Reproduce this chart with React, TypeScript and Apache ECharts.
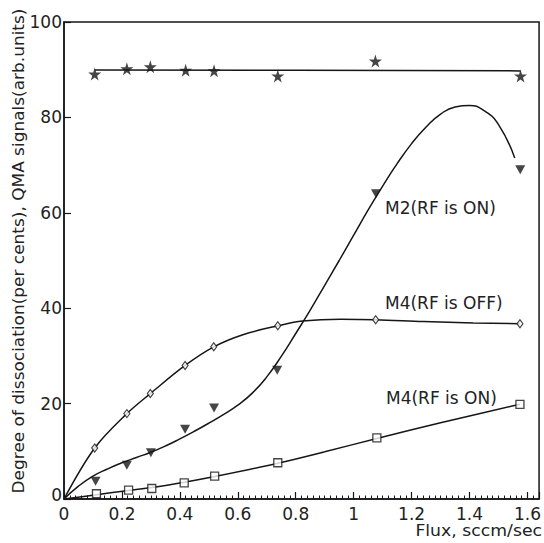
import React, { useEffect, useRef } from "react";
import * as echarts from "echarts";

// Star series (degree of dissociation)
const starX = [0.106, 0.217, 0.298, 0.42, 0.518, 0.738, 1.075, 1.576];
const starY = [89.1, 90.2, 90.6, 89.9, 89.8, 88.7, 91.8, 88.7];
const starFitX = [0.106, 0.8, 1.576];
const starFitY = [89.95, 89.9, 89.75];

// M2 (RF is ON) - filled down triangles
const m2X = [0.109, 0.217, 0.3, 0.418, 0.518, 0.736, 1.077, 1.575];
const m2Y = [3.7, 7.1, 9.7, 14.6, 19.1, 27.0, 64.0, 69.0];
const m2FitX = [0, 0.05, 0.1, 0.15, 0.2, 0.25, 0.3, 0.35, 0.4, 0.45, 0.5, 0.55, 0.6, 0.65, 0.7, 0.75, 0.8, 0.85, 0.9, 0.95, 1.0, 1.05, 1.1, 1.15, 1.2, 1.25, 1.3, 1.35, 1.4, 1.45, 1.5, 1.556];
const m2FitY = [0, 2.7, 4.8, 6.3, 7.6, 8.7, 9.8, 11.1, 12.6, 14.2, 15.9, 17.7, 19.7, 22.2, 25.6, 29.9, 34.7, 39.6, 44.8, 50.0, 55.3, 60.6, 65.6, 70.3, 74.5, 78.0, 80.7, 82.2, 82.5, 81.4, 78.5, 71.5];

// M4 (RF is OFF) - open diamonds
const m4offX = [0.106, 0.217, 0.298, 0.418, 0.517, 0.738, 1.076, 1.574];
const m4offY = [10.7, 17.9, 22.1, 28.0, 31.9, 36.3, 37.6, 36.75];
const m4offFitX = [0, 0.106, 0.217, 0.298, 0.418, 0.517, 0.62, 0.738, 0.823, 0.955, 1.076, 1.241, 1.413, 1.574];
const m4offFitY = [0, 10.7, 17.9, 22.1, 28.0, 31.9, 34.5, 36.3, 37.3, 37.7, 37.6, 37.2, 36.9, 36.75];

// M4 (RF is ON) - open squares
const m4onX = [0.112, 0.223, 0.303, 0.415, 0.52, 0.738, 1.08, 1.574];
const m4onY = [1.1, 1.85, 2.2, 3.4, 4.8, 7.6, 12.8, 19.85];
const m4onFitX = [0, 0.112, 0.223, 0.303, 0.415, 0.52, 0.738, 0.9, 1.08, 1.3, 1.574];
const m4onFitY = [0, 0.9, 1.8, 2.4, 3.5, 4.7, 7.5, 9.9, 12.7, 16.0, 19.85];

const labelM2 = "M2(RF is ON)";
const labelM4off = "M4(RF is OFF)";
const labelM4on = "M4(RF is ON)";
const yTitle = "Degree of dissociation(per cents), QMA signals(arb.units)";
const xTitle = "Flux, sccm/sec";

const INK = "#161616";
const FONT = "DejaVu Sans";

const pairs = (xs: number[], ys: number[]) => xs.map((x, i) => [x, ys[i]]);

const starPath =
  "path://M50,0 L61,35 L98,35 L68,57 L79,91 L50,70 L21,91 L32,57 L2,35 L39,35 Z";
const triDown = "path://M0,0 L10,0 L5,9 Z";

export default function App() {
  const ref = useRef<HTMLDivElement>(null);
  useEffect(() => {
    if (!ref.current) return;
    const chart = echarts.init(ref.current, undefined, { renderer: "svg" });
    const fitLine = (xs: number[], ys: number[], smooth: number | boolean) => ({
      type: "line",
      data: pairs(xs, ys),
      showSymbol: false,
      smooth,
      lineStyle: { color: INK, width: 1.5 },
      z: 2,
    });
    chart.setOption({
      animation: false,
      backgroundColor: "#ffffff",
      grid: {
        left: 64,
        top: 22,
        right: 3,
        bottom: 44,
        show: true,
        borderColor: INK,
        borderWidth: 1.5,
        backgroundColor: "transparent",
      },
      xAxis: {
        type: "value",
        min: 0,
        max: 1.64,
        interval: 0.2,
        axisLine: { show: true, lineStyle: { color: INK, width: 1.5 } },
        axisTick: { show: true, inside: true, length: 7, lineStyle: { color: INK, width: 1.2 } },
        minorTick: { show: true, splitNumber: 10, length: 3.5, lineStyle: { color: INK, width: 1 } },
        splitLine: { show: false },
        axisLabel: {
          color: "#222",
          fontFamily: FONT,
          fontSize: 17,
          margin: 6,
          showMaxLabel: false,
        },
      },
      yAxis: {
        type: "value",
        min: 0,
        max: 100,
        interval: 20,
        axisLine: { show: true, lineStyle: { color: INK, width: 1.5 } },
        axisTick: { show: true, inside: true, length: 7, lineStyle: { color: INK, width: 1.2 } },
        splitLine: { show: false },
        axisLabel: {
          color: "#222",
          fontFamily: FONT,
          fontSize: 17,
          margin: 2,
          formatter: (v: number) => (v === 0 ? "{z|0}" : String(v)),
          rich: {
            z: { fontFamily: FONT, fontSize: 17, color: "#222", padding: [0, 0, 9, 0] },
          },
        },
      },
      graphic: [
        {
          type: "text",
          x: 19,
          y: 251,
          rotation: Math.PI / 2,
          scaleX: 1.13,
          style: {
            text: yTitle,
            font: `15px "${FONT}"`,
            fill: "#222",
            align: "center",
            verticalAlign: "middle",
          },
        },
        {
          type: "text",
          x: 542,
          y: 531,
          scaleX: 1.08,
          style: {
            text: xTitle,
            font: `16px "${FONT}"`,
            fill: "#222",
            align: "right",
            verticalAlign: "middle",
          },
        },
        {
          type: "text",
          x: 385,
          y: 208,
          style: { text: labelM2, font: `17px "${FONT}"`, fill: "#222", verticalAlign: "middle" },
        },
        {
          type: "text",
          x: 385,
          y: 303,
          style: { text: labelM4off, font: `17px "${FONT}"`, fill: "#222", verticalAlign: "middle" },
        },
        {
          type: "text",
          x: 386,
          y: 398,
          style: { text: labelM4on, font: `17px "${FONT}"`, fill: "#222", verticalAlign: "middle" },
        },
      ],
      series: [
        fitLine(starFitX, starFitY, false),
        fitLine(m2FitX, m2FitY, 0.5),
        fitLine(m4offFitX, m4offFitY, 0.35),
        fitLine(m4onFitX, m4onFitY, 0.35),
        {
          type: "scatter",
          data: pairs(starX, starY),
          symbol: starPath,
          symbolSize: 13,
          itemStyle: { color: INK },
          z: 5,
        },
        {
          type: "scatter",
          data: pairs(m2X, m2Y),
          symbol: triDown,
          symbolSize: [10, 9],
          itemStyle: { color: INK },
          z: 5,
        },
        {
          type: "scatter",
          data: pairs(m4offX, m4offY),
          symbol: "diamond",
          symbolSize: [6, 8],
          itemStyle: { color: "#ffffff", borderColor: INK, borderWidth: 1.2 },
          z: 5,
        },
        {
          type: "scatter",
          data: pairs(m4onX, m4onY),
          symbol: "rect",
          symbolSize: 8,
          itemStyle: { color: "#ffffff", borderColor: INK, borderWidth: 1.3 },
          z: 5,
        },
      ],
    });
    return () => chart.dispose();
  }, []);
  return (
    <div
      ref={ref}
      style={{ position: "fixed", left: 0, top: 0, width: 544, height: 543 }}
    />
  );
}
